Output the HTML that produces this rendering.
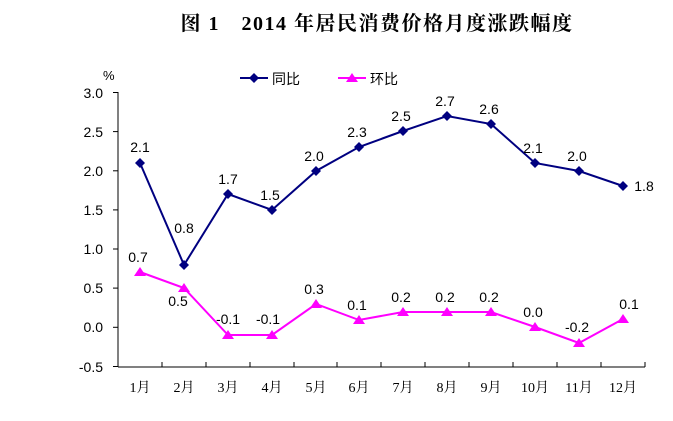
<!DOCTYPE html>
<html><head><meta charset="utf-8"><style>body{margin:0;background:#fff}svg{display:block}</style></head><body>
<svg width="673" height="421" xmlns="http://www.w3.org/2000/svg" font-family="Liberation Sans, sans-serif">
<text x="377" y="30" text-anchor="middle" font-family="Liberation Serif, Noto Serif CJK SC, serif" font-weight="bold" font-size="20" letter-spacing="1.5">图 1　2014 年居民消费价格月度涨跌幅度</text>
<text x="103" y="80" font-size="13">%</text>
<g font-size="14" text-anchor="end">
<text x="103" y="98">3.0</text><text x="103" y="137">2.5</text><text x="103" y="176">2.0</text><text x="103" y="215">1.5</text><text x="103" y="254">1.0</text><text x="103" y="293">0.5</text><text x="103" y="332">0.0</text><text x="103" y="372">-0.5</text>
</g>
<g stroke="#000" stroke-width="1">
<line x1="118" y1="92" x2="118" y2="367"/><line x1="118" y1="367" x2="645" y2="367"/>
<line x1="113" y1="92.5" x2="118" y2="92.5"/><line x1="113" y1="131.6" x2="118" y2="131.6"/><line x1="113" y1="170.8" x2="118" y2="170.8"/><line x1="113" y1="209.9" x2="118" y2="209.9"/><line x1="113" y1="249" x2="118" y2="249"/><line x1="113" y1="288.1" x2="118" y2="288.1"/><line x1="113" y1="327.3" x2="118" y2="327.3"/><line x1="113" y1="366.5" x2="118" y2="366.5"/>
<line x1="162" y1="362" x2="162" y2="367"/><line x1="206" y1="362" x2="206" y2="367"/><line x1="250" y1="362" x2="250" y2="367"/><line x1="294" y1="362" x2="294" y2="367"/><line x1="337" y1="362" x2="337" y2="367"/><line x1="381" y1="362" x2="381" y2="367"/><line x1="425" y1="362" x2="425" y2="367"/><line x1="469" y1="362" x2="469" y2="367"/><line x1="513" y1="362" x2="513" y2="367"/><line x1="557" y1="362" x2="557" y2="367"/><line x1="601" y1="362" x2="601" y2="367"/><line x1="645" y1="362" x2="645" y2="367"/>
</g>
<g font-size="14" text-anchor="middle" font-family="Liberation Serif, Noto Serif CJK SC, serif">
<text x="140" y="392">1月</text><text x="184" y="392">2月</text><text x="228" y="392">3月</text><text x="272" y="392">4月</text><text x="316" y="392">5月</text><text x="359" y="392">6月</text><text x="403" y="392">7月</text><text x="447" y="392">8月</text><text x="491" y="392">9月</text><text x="535" y="392">10月</text><text x="579" y="392">11月</text><text x="623" y="392">12月</text>
</g>
<polyline fill="none" stroke="#000080" stroke-width="2" points="140,163 184,265 228,194 272,210 316,171 359,147 403,131 447,116 491,124 535,163 579,171 623,186"/>
<g fill="#000080">
<path d="M140,158l5,5-5,5-5-5z"/><path d="M184,260l5,5-5,5-5-5z"/><path d="M228,189l5,5-5,5-5-5z"/><path d="M272,205l5,5-5,5-5-5z"/><path d="M316,166l5,5-5,5-5-5z"/><path d="M359,142l5,5-5,5-5-5z"/><path d="M403,126l5,5-5,5-5-5z"/><path d="M447,111l5,5-5,5-5-5z"/><path d="M491,119l5,5-5,5-5-5z"/><path d="M535,158l5,5-5,5-5-5z"/><path d="M579,166l5,5-5,5-5-5z"/><path d="M623,181l5,5-5,5-5-5z"/>
</g>
<polyline fill="none" stroke="#ff00ff" stroke-width="2" points="140,272 184,288 228,335 272,335 316,304 359,320 403,312 447,312 491,312 535,327 579,343 623,319"/>
<g fill="#ff00ff">
<path d="M140,267l6,9h-12z"/><path d="M184,283l6,9h-12z"/><path d="M228,330l6,9h-12z"/><path d="M272,330l6,9h-12z"/><path d="M316,299l6,9h-12z"/><path d="M359,315l6,9h-12z"/><path d="M403,307l6,9h-12z"/><path d="M447,307l6,9h-12z"/><path d="M491,307l6,9h-12z"/><path d="M535,322l6,9h-12z"/><path d="M579,338l6,9h-12z"/><path d="M623,314l6,9h-12z"/>
</g>
<g font-size="14" text-anchor="middle">
<text x="140" y="152">2.1</text><text x="184" y="233">0.8</text><text x="228" y="184">1.7</text><text x="270" y="200">1.5</text><text x="314" y="161">2.0</text><text x="357" y="137">2.3</text><text x="401" y="121">2.5</text><text x="445" y="106">2.7</text><text x="489" y="114">2.6</text><text x="533" y="153">2.1</text><text x="577" y="161">2.0</text><text x="644" y="191">1.8</text>
<text x="138" y="262">0.7</text><text x="178" y="306">0.5</text><text x="228" y="324">-0.1</text><text x="268" y="324">-0.1</text><text x="314" y="294">0.3</text><text x="357" y="310">0.1</text><text x="401" y="302">0.2</text><text x="445" y="302">0.2</text><text x="489" y="302">0.2</text><text x="533" y="317">0.0</text><text x="577" y="332">-0.2</text><text x="629" y="309">0.1</text>
</g>
<line x1="240" y1="78" x2="268" y2="78" stroke="#000080" stroke-width="2"/><path d="M254,73l5,5-5,5-5-5z" fill="#000080"/>
<text x="272" y="84" font-size="14" font-family="Liberation Sans, Noto Sans CJK SC, sans-serif">同比</text>
<line x1="338" y1="78" x2="366" y2="78" stroke="#ff00ff" stroke-width="2"/><path d="M352,73l6,9h-12z" fill="#ff00ff"/>
<text x="370" y="84" font-size="14" font-family="Liberation Sans, Noto Sans CJK SC, sans-serif">环比</text>
</svg>
</body></html>
